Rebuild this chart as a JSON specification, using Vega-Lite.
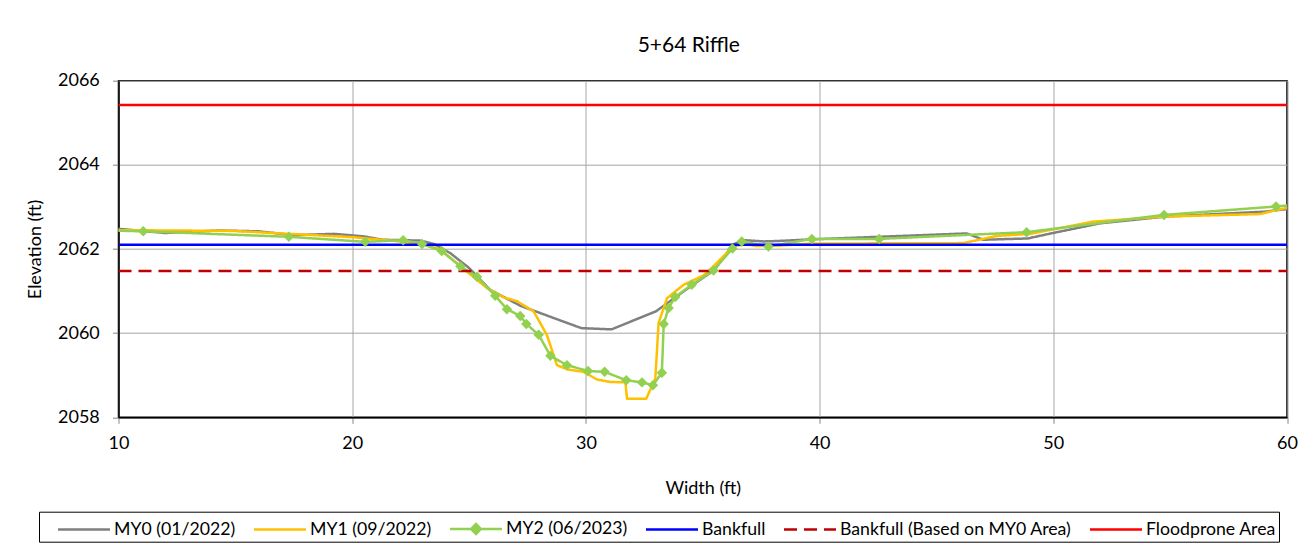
{
  "$schema": "https://vega.github.io/schema/vega-lite/v6.json",
  "width": 1168.5,
  "height": 336.6,
  "autosize": "none",
  "padding": {"left": 118.5, "top": 80.7, "right": 21, "bottom": 136.7},
  "background": "white",
  "title": {"text": "5+64 Riffle", "frame": "group", "anchor": "middle", "baseline": "alphabetic", "offset": -1.1, "dx": -14, "font": "Lato", "fontSize": 21, "fontWeight": "normal", "color": "#000"},
  "config": {
    "view": {"stroke": "#000", "strokeWidth": 1.5},
    "axis": {"labelFont": "Lato", "labelFontSize": 18, "labelColor": "#000", "titleFont": "Lato", "titleFontSize": 18, "titleFontWeight": "normal", "titleColor": "#000", "gridColor": "#A6A6A6", "gridWidth": 1, "tickColor": "#868686", "tickSize": 6, "domainColor": "#000", "domainWidth": 1.5}
  },
  "data": {"values": [
    {"s": "MY0 (01/2022)", "x": 9.6, "y": 2062.50},
    {"s": "MY0 (01/2022)", "x": 12.0, "y": 2062.38},
    {"s": "MY0 (01/2022)", "x": 14.3, "y": 2062.44},
    {"s": "MY0 (01/2022)", "x": 16.0, "y": 2062.42},
    {"s": "MY0 (01/2022)", "x": 17.5, "y": 2062.33},
    {"s": "MY0 (01/2022)", "x": 19.2, "y": 2062.36},
    {"s": "MY0 (01/2022)", "x": 20.5, "y": 2062.30},
    {"s": "MY0 (01/2022)", "x": 21.3, "y": 2062.22},
    {"s": "MY0 (01/2022)", "x": 22.9, "y": 2062.20},
    {"s": "MY0 (01/2022)", "x": 23.5, "y": 2062.12},
    {"s": "MY0 (01/2022)", "x": 24.2, "y": 2061.90},
    {"s": "MY0 (01/2022)", "x": 25.0, "y": 2061.55},
    {"s": "MY0 (01/2022)", "x": 25.9, "y": 2061.03},
    {"s": "MY0 (01/2022)", "x": 27.2, "y": 2060.65},
    {"s": "MY0 (01/2022)", "x": 29.8, "y": 2060.12},
    {"s": "MY0 (01/2022)", "x": 31.1, "y": 2060.09},
    {"s": "MY0 (01/2022)", "x": 33.0, "y": 2060.52},
    {"s": "MY0 (01/2022)", "x": 33.6, "y": 2060.76},
    {"s": "MY0 (01/2022)", "x": 34.5, "y": 2061.12},
    {"s": "MY0 (01/2022)", "x": 35.5, "y": 2061.50},
    {"s": "MY0 (01/2022)", "x": 36.3, "y": 2062.11},
    {"s": "MY0 (01/2022)", "x": 36.75, "y": 2062.21},
    {"s": "MY0 (01/2022)", "x": 37.6, "y": 2062.18},
    {"s": "MY0 (01/2022)", "x": 38.2, "y": 2062.19},
    {"s": "MY0 (01/2022)", "x": 39.7, "y": 2062.23},
    {"s": "MY0 (01/2022)", "x": 46.3, "y": 2062.37},
    {"s": "MY0 (01/2022)", "x": 47.0, "y": 2062.22},
    {"s": "MY0 (01/2022)", "x": 48.9, "y": 2062.25},
    {"s": "MY0 (01/2022)", "x": 49.9, "y": 2062.37},
    {"s": "MY0 (01/2022)", "x": 52.0, "y": 2062.61},
    {"s": "MY0 (01/2022)", "x": 54.8, "y": 2062.77},
    {"s": "MY0 (01/2022)", "x": 59.1, "y": 2062.89},
    {"s": "MY0 (01/2022)", "x": 60.3, "y": 2062.97},
    {"s": "MY1 (09/2022)", "x": 9.6, "y": 2062.45},
    {"s": "MY1 (09/2022)", "x": 14.9, "y": 2062.43},
    {"s": "MY1 (09/2022)", "x": 20.05, "y": 2062.28},
    {"s": "MY1 (09/2022)", "x": 22.04, "y": 2062.18},
    {"s": "MY1 (09/2022)", "x": 23.0, "y": 2062.12},
    {"s": "MY1 (09/2022)", "x": 23.77, "y": 2061.99},
    {"s": "MY1 (09/2022)", "x": 24.63, "y": 2061.59},
    {"s": "MY1 (09/2022)", "x": 25.77, "y": 2061.07},
    {"s": "MY1 (09/2022)", "x": 26.48, "y": 2060.85},
    {"s": "MY1 (09/2022)", "x": 27.05, "y": 2060.76},
    {"s": "MY1 (09/2022)", "x": 27.76, "y": 2060.52},
    {"s": "MY1 (09/2022)", "x": 28.33, "y": 2059.96},
    {"s": "MY1 (09/2022)", "x": 28.76, "y": 2059.24},
    {"s": "MY1 (09/2022)", "x": 29.19, "y": 2059.14},
    {"s": "MY1 (09/2022)", "x": 29.9, "y": 2059.08},
    {"s": "MY1 (09/2022)", "x": 30.47, "y": 2058.90},
    {"s": "MY1 (09/2022)", "x": 31.04, "y": 2058.84},
    {"s": "MY1 (09/2022)", "x": 31.69, "y": 2058.83},
    {"s": "MY1 (09/2022)", "x": 31.76, "y": 2058.44},
    {"s": "MY1 (09/2022)", "x": 32.58, "y": 2058.44},
    {"s": "MY1 (09/2022)", "x": 32.97, "y": 2058.92},
    {"s": "MY1 (09/2022)", "x": 33.11, "y": 2060.24},
    {"s": "MY1 (09/2022)", "x": 33.47, "y": 2060.83},
    {"s": "MY1 (09/2022)", "x": 34.18, "y": 2061.15},
    {"s": "MY1 (09/2022)", "x": 35.03, "y": 2061.37},
    {"s": "MY1 (09/2022)", "x": 35.46, "y": 2061.59},
    {"s": "MY1 (09/2022)", "x": 36.32, "y": 2062.07},
    {"s": "MY1 (09/2022)", "x": 36.89, "y": 2062.11},
    {"s": "MY1 (09/2022)", "x": 37.32, "y": 2062.07},
    {"s": "MY1 (09/2022)", "x": 38.31, "y": 2062.08},
    {"s": "MY1 (09/2022)", "x": 39.67, "y": 2062.13},
    {"s": "MY1 (09/2022)", "x": 46.15, "y": 2062.14},
    {"s": "MY1 (09/2022)", "x": 47.58, "y": 2062.31},
    {"s": "MY1 (09/2022)", "x": 49.0, "y": 2062.36},
    {"s": "MY1 (09/2022)", "x": 51.7, "y": 2062.65},
    {"s": "MY1 (09/2022)", "x": 54.74, "y": 2062.77},
    {"s": "MY1 (09/2022)", "x": 58.84, "y": 2062.83},
    {"s": "MY1 (09/2022)", "x": 60.3, "y": 2063.02},
    {"s": "MY2 (06/2023)", "x": 9.6, "y": 2062.44},
    {"s": "MY2 (06/2023)", "x": 11.06, "y": 2062.42},
    {"s": "MY2 (06/2023)", "x": 17.29, "y": 2062.29},
    {"s": "MY2 (06/2023)", "x": 20.56, "y": 2062.17},
    {"s": "MY2 (06/2023)", "x": 22.18, "y": 2062.21},
    {"s": "MY2 (06/2023)", "x": 22.99, "y": 2062.12},
    {"s": "MY2 (06/2023)", "x": 23.83, "y": 2061.95},
    {"s": "MY2 (06/2023)", "x": 24.63, "y": 2061.59},
    {"s": "MY2 (06/2023)", "x": 25.34, "y": 2061.34},
    {"s": "MY2 (06/2023)", "x": 26.12, "y": 2060.89},
    {"s": "MY2 (06/2023)", "x": 26.62, "y": 2060.57},
    {"s": "MY2 (06/2023)", "x": 27.19, "y": 2060.41},
    {"s": "MY2 (06/2023)", "x": 27.45, "y": 2060.22},
    {"s": "MY2 (06/2023)", "x": 27.98, "y": 2059.96},
    {"s": "MY2 (06/2023)", "x": 28.48, "y": 2059.46},
    {"s": "MY2 (06/2023)", "x": 29.19, "y": 2059.24},
    {"s": "MY2 (06/2023)", "x": 30.09, "y": 2059.10},
    {"s": "MY2 (06/2023)", "x": 30.8, "y": 2059.08},
    {"s": "MY2 (06/2023)", "x": 31.73, "y": 2058.88},
    {"s": "MY2 (06/2023)", "x": 32.4, "y": 2058.83},
    {"s": "MY2 (06/2023)", "x": 32.87, "y": 2058.76},
    {"s": "MY2 (06/2023)", "x": 33.25, "y": 2059.06},
    {"s": "MY2 (06/2023)", "x": 33.33, "y": 2060.22},
    {"s": "MY2 (06/2023)", "x": 33.54, "y": 2060.60},
    {"s": "MY2 (06/2023)", "x": 33.82, "y": 2060.86},
    {"s": "MY2 (06/2023)", "x": 34.53, "y": 2061.15},
    {"s": "MY2 (06/2023)", "x": 35.46, "y": 2061.49},
    {"s": "MY2 (06/2023)", "x": 36.27, "y": 2062.01},
    {"s": "MY2 (06/2023)", "x": 36.67, "y": 2062.18},
    {"s": "MY2 (06/2023)", "x": 37.81, "y": 2062.06},
    {"s": "MY2 (06/2023)", "x": 39.67, "y": 2062.24},
    {"s": "MY2 (06/2023)", "x": 42.55, "y": 2062.24},
    {"s": "MY2 (06/2023)", "x": 48.86, "y": 2062.40},
    {"s": "MY2 (06/2023)", "x": 54.74, "y": 2062.81},
    {"s": "MY2 (06/2023)", "x": 59.53, "y": 2063.01},
    {"s": "MY2 (06/2023)", "x": 60.3, "y": 2063.05},
    {"s": "Bankfull", "x": 10, "y": 2062.10},
    {"s": "Bankfull", "x": 60, "y": 2062.10},
    {"s": "Bankfull (Based on MY0 Area)", "x": 10, "y": 2061.48},
    {"s": "Bankfull (Based on MY0 Area)", "x": 60, "y": 2061.48},
    {"s": "Floodprone Area", "x": 10, "y": 2065.42},
    {"s": "Floodprone Area", "x": 60, "y": 2065.42}
  ]},
  "layer": [
    {
      "mark": {"type": "line", "clip": true, "strokeJoin": "round"},
      "encoding": {
        "x": {"field": "x", "type": "quantitative", "title": "Width (ft)",
              "scale": {"domain": [10, 60], "nice": false, "zero": false},
              "axis": {"values": [10, 20, 30, 40, 50, 60], "labelPadding": 10.7, "titleY": 71, "titleBaseline": "middle", "labelFlush": false}},
        "y": {"field": "y", "type": "quantitative", "title": "Elevation (ft)",
              "scale": {"domain": [2058, 2066], "nice": false, "zero": false},
              "axis": {"values": [2058, 2060, 2062, 2064, 2066], "labelPadding": 13.2, "titleX": -83.5, "titleY": 168.3, "titleBaseline": "middle", "labelFlush": false, "format": "d"}},
        "color": {"field": "s", "type": "nominal",
                  "scale": {"domain": ["MY0 (01/2022)", "MY1 (09/2022)", "MY2 (06/2023)", "Bankfull", "Bankfull (Based on MY0 Area)", "Floodprone Area"],
                            "range": ["#808080", "#FFC000", "#92D050", "#0000FF", "#C00000", "#FF0000"]},
                  "legend": {"title": null, "orient": "none", "legendX": -79.5, "legendY": 431, "direction": "horizontal", "columns": 6,
                             "symbolType": "M-1,0H3", "symbolSize": 676, "symbolStrokeWidth": 2.5, "symbolOffset": 15, "labelOffset": 28.5,
                             "columnPadding": 2, "padding": 2.5, "strokeColor": "#000", "fillColor": "#fff",
                             "labelFont": "Lato", "labelFontSize": 17.7, "labelColor": "#000", "labelLimit": 500,
                             "encode": {"symbols": {"update": {
                               "fill": {"signal": "datum.value === 'MY2 (06/2023)' ? '#92D050' : 'transparent'"},
                               "shape": {"signal": "datum.value === 'MY2 (06/2023)' ? 'M-1,0H3M0.62,0L1,-0.38L1.38,0L1,0.38Z' : 'M-1,0H3'"},
                               "strokeDash": {"signal": "datum.value === 'Bankfull (Based on MY0 Area)' ? [10,10] : [1,0]"}
                             }}}}},
        "strokeDash": {"field": "s", "type": "nominal", "legend": null,
                       "scale": {"domain": ["MY0 (01/2022)", "MY1 (09/2022)", "MY2 (06/2023)", "Bankfull", "Bankfull (Based on MY0 Area)", "Floodprone Area"],
                                 "range": [[1, 0], [1, 0], [1, 0], [1, 0], [13, 7], [1, 0]]}},
        "strokeWidth": {"field": "s", "type": "ordinal", "legend": null,
                        "scale": {"domain": ["MY0 (01/2022)", "MY1 (09/2022)", "MY2 (06/2023)", "Bankfull", "Bankfull (Based on MY0 Area)", "Floodprone Area"],
                                  "range": [2.5, 2.5, 2.5, 1.5, 3, 1.5]}}
      }
    },
    {
      "transform": [{"filter": "datum.s === 'MY2 (06/2023)'"}],
      "mark": {"type": "point", "shape": "diamond", "filled": true, "size": 110, "color": "#92D050", "opacity": 1, "clip": true},
      "encoding": {
        "x": {"field": "x", "type": "quantitative"},
        "y": {"field": "y", "type": "quantitative"}
      }
    }
  ]
}
